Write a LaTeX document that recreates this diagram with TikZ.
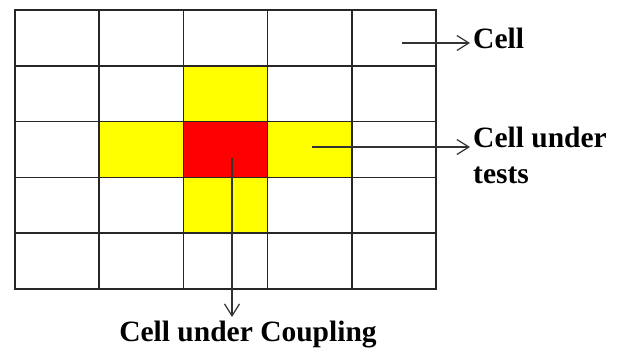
\documentclass[tikz,border=0pt]{standalone}
\usepackage{fontspec}
\setmainfont{Liberation Serif}
\usetikzlibrary{arrows.meta}
\definecolor{cellyellow}{RGB}{255,255,0}
\definecolor{cellred}{RGB}{255,0,0}
\begin{document}
\begin{tikzpicture}[x=1pt,y=-1pt,
  gridline/.style={line width=1.5pt,draw=black!85,line cap=rect},
  cellbox/.style={minimum width=84.2pt,minimum height=55.8pt,inner sep=0pt,outer sep=0pt,draw=none},
  pointer/.style={line width=1.2pt,draw=black!80,-{Straight Barb[length=12pt,width=15pt,line width=1.2pt]}},
  lbl/.style={font=\fontsize{29.5}{36}\selectfont\bfseries,inner sep=0pt,align=left}
]
\useasboundingbox (0,0) rectangle (621,352);
% cells
\foreach \i in {0,...,4}{
  \foreach \j in {0,...,4}{
    \node[cellbox] (c-\i-\j) at ({15+84.2*\i+42.1},{10+55.8*\j+27.9}) {};
  }
}
\fill[cellyellow] (c-2-1.north west) rectangle (c-2-1.south east);
\fill[cellyellow] (c-1-2.north west) rectangle (c-1-2.south east);
\fill[cellyellow] (c-3-2.north west) rectangle (c-3-2.south east);
\fill[cellyellow] (c-2-3.north west) rectangle (c-2-3.south east);
\fill[cellred] (c-2-2.north west) rectangle (c-2-2.south east);
% grid lines
\foreach \i in {0,...,4}{
  \draw[gridline] (c-\i-0.north west) -- (c-\i-4.south west);
  \draw[gridline] (c-0-\i.north west) -- (c-4-\i.north east);
}
\draw[gridline] (c-4-0.north east) -- (c-4-4.south east);
\draw[gridline] (c-0-4.south west) -- (c-4-4.south east);
% labels
\node[lbl,anchor=base west] (lcell) at (473,49) {Cell};
\node[lbl,anchor=north west] (ltests) at (473,127) {Cell under\\tests};
\node[lbl,anchor=north] (lcoup) at (248,321) {Cell under Coupling};
% pointer starts
\coordinate (pcell) at (402,43);
\coordinate (ptests) at (312,147);
\coordinate (pcoup) at (232,158);
\draw[pointer,shorten >=3pt] (pcell) -- (pcell -| lcell.west);
\draw[pointer,shorten >=3pt] (ptests) -- (ptests -| ltests.west);
\draw[pointer,shorten >=4pt] (pcoup) -- (pcoup |- lcoup.north);
\end{tikzpicture}
\end{document}
